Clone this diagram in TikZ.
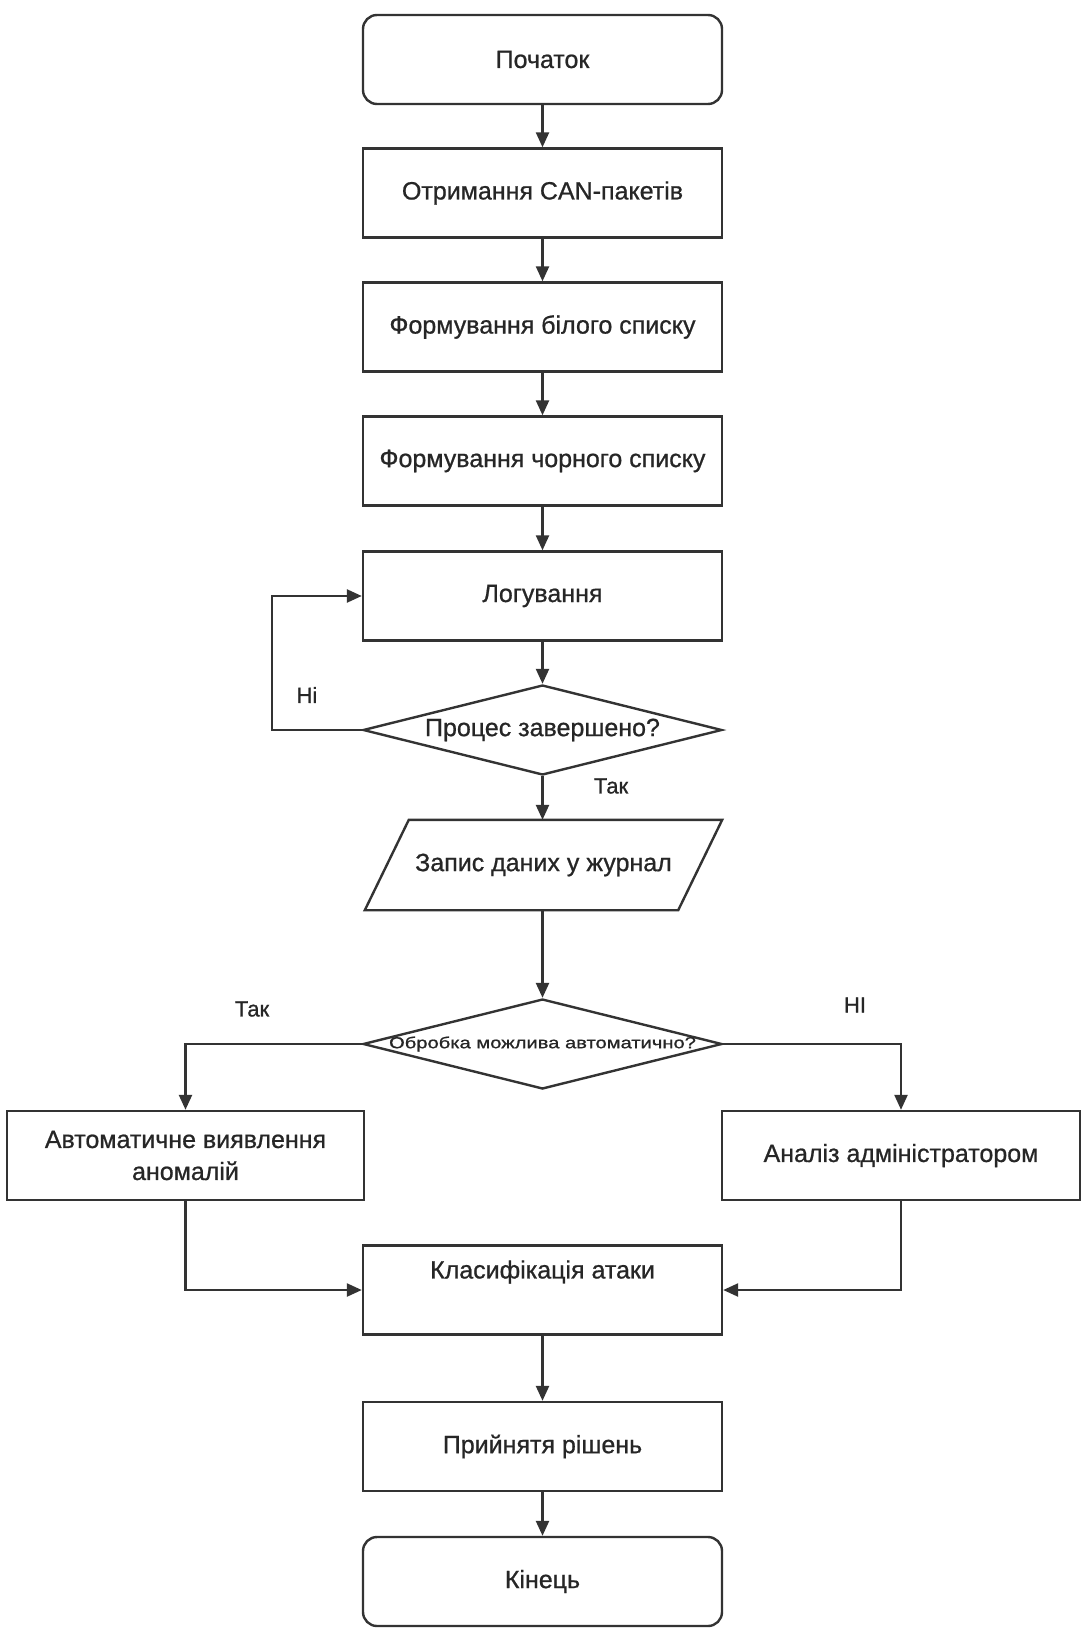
\documentclass[tikz,border=0pt]{standalone}
\usepackage{fontspec}
\setmainfont{Liberation Sans}[FakeBold=0.8,AutoFakeBold=0.8]
\usetikzlibrary{arrows.meta,shapes.geometric,calc}
\definecolor{ln}{HTML}{333333}
\definecolor{tx}{HTML}{262626}
\begin{document}
\begin{tikzpicture}[x=1pt,y=-1pt,
  every node/.style={text=tx,font=\fontsize{25}{32}\selectfont},
  base/.style={draw=ln,line width=2.4pt,inner sep=0pt},
  procbox/.style={base,rectangle,minimum width=359pt,minimum height=89pt},
  termbox/.style={procbox,rounded corners=14pt},
  decbox/.style={base,diamond,minimum width=359pt,minimum height=90pt},
  iobox/.style={rectangle,inner sep=0pt,minimum width=357pt,minimum height=90pt},
  arr/.style={draw=ln,line width=2.4pt,-{Triangle[length=15pt,width=13pt]}},
  lbl/.style={font=\fontsize{22}{26}\selectfont}
]
\useasboundingbox[fill=white] (0,0) rectangle (1081,1629);
\node[termbox] (start) at (542.5,59.5) {Початок};
\node[procbox] (recv) at (542.5,193) {Отримання CAN-пакетів};
\node[procbox] (white) at (542.5,327) {Формування білого списку};
\node[procbox] (black) at (542.5,461) {Формування чорного списку};
\node[procbox] (log) at (542.5,596) {Логування};
\node[decbox,label={[font=\fontsize{25}{30}\selectfont,text=tx]center:Процес завершено?}] (d1) at (542.5,730) {};
\node[iobox] (write) at (543.5,865) {Запис даних у журнал};
\draw[draw=ln,line width=2.4pt,line join=miter] (write.south west) -- ($(write.north west)+(44,0)$) -- (write.north east) -- ($(write.south east)+(-44,0)$) -- cycle;
\node[decbox,label={[font=\fontsize{16}{20}\selectfont,text=tx,xscale=1.26]center:Обробка можлива автоматично?}] (d2) at (542.5,1044) {};
\node[procbox,align=center,minimum width=357pt] (auto) at (185.5,1155.5) {Автоматичне виявлення\\аномалій};
\node[procbox,minimum width=358pt] (admin) at (901,1155.5) {Аналіз адміністратором};
\node[procbox,label={[yshift=18pt,text=tx]center:Класифікація атаки}] (cls) at (542.5,1290) {};
\node[procbox] (dec) at (542.5,1446.5) {Прийнятя рішень};
\node[termbox] (end) at (542.5,1581.5) {Кінець};

\draw[arr] (start) -- (recv);
\draw[arr] (recv) -- (white);
\draw[arr] (white) -- (black);
\draw[arr] (black) -- (log);
\draw[arr] (log) -- (d1);
\draw[arr] (d1.west) -- ++(-90,0) |- (log.west);
\draw[arr] (d1.south) -- (write.north -| d1.south);
\draw[arr] (write.south -| d2.north) -- (d2.north);
\draw[arr] (d2.west) -| (auto.north);
\draw[arr] (d2.east) -| (admin.north);
\draw[arr] (auto.south) |- (cls.west);
\draw[arr] (admin.south) |- (cls.east);
\draw[arr] (cls) -- (dec);
\draw[arr] (dec) -- (end);

\node[lbl] (ni1) at (307,695) {Ні};
\node[lbl] (tak1) at (611,786) {Так};
\node[lbl] (tak2) at (252,1009) {Так};
\node[lbl] (ni2) at (855,1005) {НІ};
\end{tikzpicture}
\end{document}
